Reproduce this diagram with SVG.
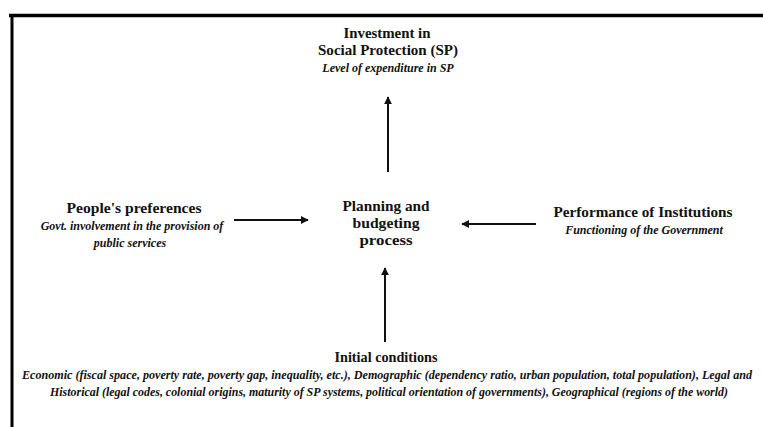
<svg xmlns="http://www.w3.org/2000/svg" width="763" height="427" viewBox="0 0 763 427">
<style>
text{font-family:"Liberation Serif","Times New Roman",serif;font-weight:bold;fill:#111;text-anchor:middle}
.t{font-size:14px}
.i{font-size:12px;font-style:italic}
.c{stroke:#111;stroke-width:2;fill:none}
</style>
<defs>
<marker id="ah" viewBox="0 0 10 10" refX="9" refY="5" markerWidth="4" markerHeight="4" orient="auto" markerUnits="strokeWidth">
<path d="M0,0 L10,5 L0,10 z" fill="#111"/>
</marker>
</defs>
<rect width="763" height="427" fill="#fff"/>
<g id="frame">
<line x1="9" y1="15.5" x2="763" y2="15.5" stroke="#000" stroke-width="3.5"/>
<line x1="12" y1="14" x2="12" y2="427" stroke="#000" stroke-width="3"/>
</g>
<g id="investment" font-family="Liberation Serif, serif">
<text class="t" x="387" y="38" textLength="87" lengthAdjust="spacingAndGlyphs">Investment in</text>
<text class="t" x="388" y="55" textLength="140" lengthAdjust="spacingAndGlyphs">Social Protection (SP)</text>
<text class="i" x="388" y="72">Level of expenditure in SP</text>
</g>
<g id="preferences" font-family="Liberation Serif, serif">
<text class="t" x="134" y="213" textLength="135" lengthAdjust="spacingAndGlyphs">People's preferences</text>
<text class="i" x="132" y="230">Govt. involvement in the provision of</text>
<text class="i" x="130" y="247">public services</text>
</g>
<g id="planning" font-family="Liberation Serif, serif">
<text class="t" x="386" y="211" textLength="87" lengthAdjust="spacingAndGlyphs">Planning and</text>
<text class="t" x="386" y="228" textLength="67" lengthAdjust="spacingAndGlyphs">budgeting</text>
<text class="t" x="386" y="245" textLength="53" lengthAdjust="spacingAndGlyphs">process</text>
</g>
<g id="institutions" font-family="Liberation Serif, serif">
<text class="t" x="643" y="217" textLength="179" lengthAdjust="spacingAndGlyphs">Performance of Institutions</text>
<text class="i" x="644" y="234">Functioning of the Government</text>
</g>
<g id="initial" font-family="Liberation Serif, serif">
<text class="t" x="386" y="362" textLength="103" lengthAdjust="spacingAndGlyphs">Initial conditions</text>
<text class="i" x="387" y="379" textLength="730" lengthAdjust="spacingAndGlyphs">Economic (fiscal space, poverty rate, poverty gap, inequality, etc.), Demographic (dependency ratio, urban population, total population), Legal and</text>
<text class="i" x="389" y="396" textLength="678" lengthAdjust="spacingAndGlyphs">Historical (legal codes, colonial origins, maturity of SP systems, political orientation of governments), Geographical (regions of the world)</text>
</g>
<g id="connectors">
<line class="c" x1="388" y1="172" x2="388" y2="97" marker-end="url(#ah)"/>
<line class="c" x1="385" y1="342" x2="385" y2="268" stroke-width="2.5" marker-end="url(#ah)"/>
<line class="c" x1="234" y1="220" x2="308" y2="220" marker-end="url(#ah)"/>
<line class="c" x1="536" y1="224" x2="462" y2="224" marker-end="url(#ah)"/>
</g>
</svg>
